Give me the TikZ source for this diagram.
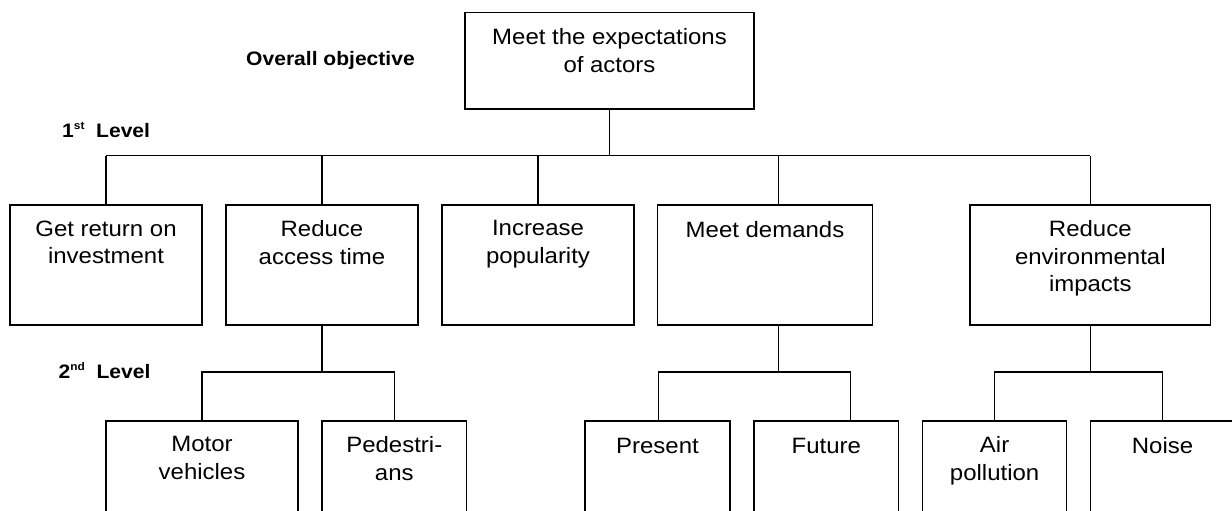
\documentclass[tikz,border=0pt]{standalone}
\usepackage{fontspec}
\setmainfont{Liberation Sans}[FakeStretch=1.08]
\newcommand{\supr}[1]{\raisebox{8pt}{\fontsize{11}{12}\selectfont #1}}
\begin{document}
\begin{tikzpicture}[x=1pt,y=-1pt,
  box/.style={draw, line width=1.5pt, rectangle, inner sep=0pt, anchor=north},
  txt/.style={align=center, inner sep=0pt, anchor=north, font=\fontsize{22.2}{27.5}\selectfont, execute at begin node={\rule{0pt}{17pt}}},
  lvl/.style={anchor=base west, inner sep=0pt, font=\fontsize{19.5}{23}\selectfont\bfseries},
  link/.style={line width=1.5pt}]
\useasboundingbox (0,0) rectangle (1232,511);
\clip (0,0) rectangle (1232,511);
\fill[white] (0,0) rectangle (1232,511);
\coordinate (L1) at (0,155.5);
\coordinate (L2) at (0,372);
% top
\node[box, minimum width=289pt, minimum height=96pt] (T) at (609.5,12) {};
\node[txt] (tT) at ([yshift=-16.5pt]T.north) {Meet the expectations\\of actors};
% level 1
\node[box, minimum width=192pt, minimum height=120pt] (A) at (106,204) {};
\node[box, minimum width=192pt, minimum height=120pt] (B) at (322,204) {};
\node[box, minimum width=192pt, minimum height=120pt] (C) at (538,204) {};
\node[box, minimum width=215.4pt, minimum height=120pt] (D) at (765,204) {};
\node[box, minimum width=240.6pt, minimum height=120pt] (E) at (1090.3,204) {};
\node[txt] (tA) at ([yshift=-16.5pt]A.north) {Get return on\\investment};
\node[txt] (tB) at ([yshift=-16.5pt]B.north) {Reduce\\access time};
\node[txt] (tC) at ([yshift=-16.5pt]C.north) {Increase\\popularity};
\node[txt] (tD) at ([yshift=-16.5pt]D.north) {Meet demands};
\node[txt] (tE) at ([yshift=-16.5pt]E.north) {Reduce\\environmental\\impacts};
% level 2
\node[box, minimum width=192pt, minimum height=140pt] (B1) at (202,420) {};
\node[box, minimum width=144.6pt, minimum height=140pt] (B2) at (394.3,420) {};
\node[box, minimum width=145pt, minimum height=140pt] (D1) at (657.5,420) {};
\node[box, minimum width=144.7pt, minimum height=140pt] (D2) at (826.3,420) {};
\node[box, minimum width=144.2pt, minimum height=140pt] (E1) at (994.6,420) {};
\node[box, minimum width=144pt, minimum height=140pt] (E2) at (1162.5,420) {};
\node[txt] (tB1) at ([yshift=-16.5pt]B1.north) {Motor\\vehicles};
\node[txt] (tB2) at ([yshift=-16.5pt]B2.north) {Pedestri-\\ans};
\node[txt] (tD1) at ([yshift=-16.5pt]D1.north) {Present};
\node[txt] (tD2) at ([yshift=-16.5pt]D2.north) {Future};
\node[txt] (tE1) at ([yshift=-16.5pt]E1.north) {Air\\pollution};
\node[txt] (tE2) at ([yshift=-16.5pt]E2.north) {Noise};
% labels
\node[lvl] (ov) at (246,65.7) {Overall objective};
\node[lvl] (l1) at (62,137.5) {1\supr{st}\ \ Level};
\node[lvl] (l2) at (58.5,378) {2\supr{nd}\ \ Level};
% connectors level 1
\draw[link] (T.south) -- (T.south |- L1);
\draw[link] (A.north |- L1) -- (E.north |- L1);
\draw[link] (A.north) -- (A.north |- L1);
\draw[link] (B.north) -- (B.north |- L1);
\draw[link] (C.north) -- (C.north |- L1);
\draw[link] ([xshift=13.3pt]D.north) -- ([xshift=13.3pt]D.north |- L1);
\draw[link] (E.north) -- (E.north |- L1);
% connectors level 2
\draw[link] (B.south) -- (B.south |- L2);
\draw[link] (B1.north) -- (B1.north |- L2) -- (B2.north |- L2) -- (B2.north);
\draw[link] ([xshift=13.3pt]D.south) -- ([xshift=13.3pt]D.south |- L2);
\draw[link] ([xshift=0.9pt]D1.north) -- ([xshift=0.9pt]D1.north |- L2) -- ([xshift=24.4pt]D2.north |- L2) -- ([xshift=24.4pt]D2.north);
\draw[link] (E.south) -- (E.south |- L2);
\draw[link] (E1.north) -- (E1.north |- L2) -- (E2.north |- L2) -- (E2.north);
\end{tikzpicture}
\end{document}
